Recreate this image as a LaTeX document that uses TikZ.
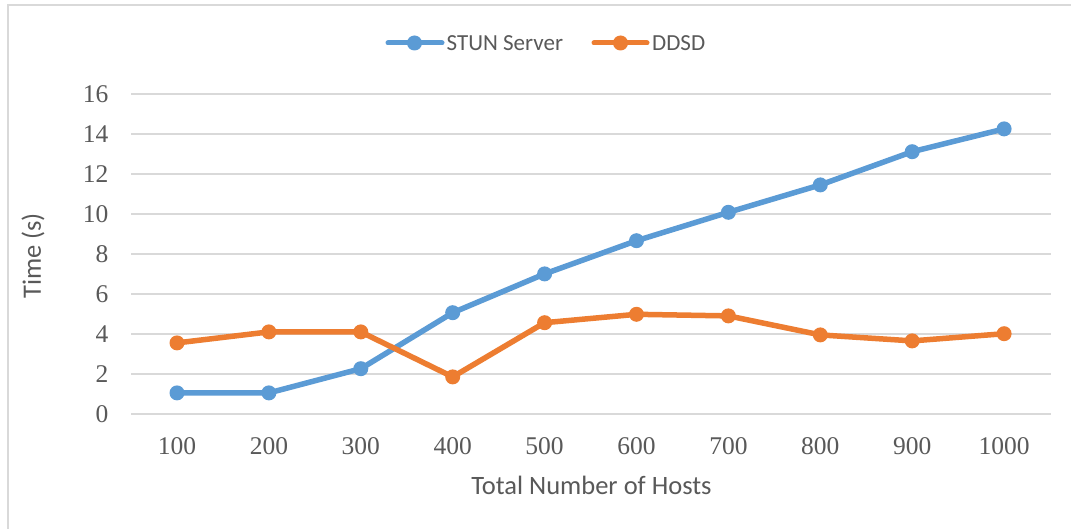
\documentclass[tikz,border=0pt]{standalone}
\usepackage{fontspec}
\setmainfont{Liberation Serif}
\newfontfamily\calfont{Carlito}
\definecolor{stun}{HTML}{5B9BD5}
\definecolor{ddsd}{HTML}{ED7D31}
\definecolor{txt}{HTML}{595959}
\definecolor{gridc}{HTML}{D9D9D9}
\tikzset{
  gridline/.style={draw=gridc, line width=1.8pt},
  framel/.style={draw=gridc, line width=2pt},
  ticklab/.style={text=txt, font=\fontsize{25.5}{30}\selectfont, inner sep=0pt},
  axtitle/.style={text=txt, font=\calfont\fontsize{26.5}{30}\selectfont, inner sep=0pt},
  legtext/.style={text=txt, font=\calfont\fontsize{23}{27}\selectfont, inner sep=0pt, anchor=west},
  stunline/.style={draw=stun, line width=5.5pt, line join=round, line cap=round},
  ddsdline/.style={draw=ddsd, line width=5.5pt, line join=round, line cap=round},
  stunmark/.style={circle, fill=stun, minimum size=15pt, inner sep=0pt},
  ddsdmark/.style={circle, fill=ddsd, minimum size=15pt, inner sep=0pt},
}
\begin{document}
\begin{tikzpicture}[x=1pt,y=-1pt]
\useasboundingbox (0,0) rectangle (1071,529);
\fill[white] (0,0) rectangle (1071,529);
\draw[framel] (8,529) -- (8,5) -- (1071,5);

% gridlines and y labels
\foreach \v in {0,2,...,16}{
  \draw[gridline] (131,{414.3-20*\v}) -- (1050.5,{414.3-20*\v});
  \node[ticklab, anchor=east] (yl\v) at (108.5,{414.3-20*\v}) {\v};
}
% x labels
\foreach \n [count=\k] in {100,200,...,1000}{
  \node[ticklab] (xl\k) at ({85.1+91.9*\k},445.7) {\n};
}

% axis titles
\node[axtitle, rotate=90] (ytitle) at (33,256) {Time (s)};
\node[axtitle] (xtitle) at (591.5,485) {Total Number of Hosts};

% data coordinates
\foreach \v [count=\k] in {1.07,1.07,2.28,5.08,7.02,8.68,10.1,11.47,13.13,14.27}{
  \coordinate (s\k) at ({85.1+91.9*\k},{414.3-20*\v});
}
\foreach \v [count=\k] in {3.57,4.12,4.12,1.87,4.58,5.0,4.92,3.97,3.67,4.03}{
  \coordinate (d\k) at ({85.1+91.9*\k},{414.3-20*\v});
}

% STUN series
\draw[stunline] (s1) -- (s2) -- (s3) -- (s4) -- (s5) -- (s6) -- (s7) -- (s8) -- (s9) -- (s10);
\foreach \k in {1,...,10}{ \node[stunmark] (sm\k) at (s\k) {}; }
% DDSD series
\draw[ddsdline] (d1) -- (d2) -- (d3) -- (d4) -- (d5) -- (d6) -- (d7) -- (d8) -- (d9) -- (d10);
\foreach \k in {1,...,10}{ \node[ddsdmark] (dm\k) at (d\k) {}; }

% legend
\coordinate (la1) at (388,43);
\coordinate (la2) at (442,43);
\draw[stunline, line width=5pt] (la1) -- (la2);
\node[stunmark] (lm1) at (414.5,43) {};
\node[legtext] (lt1) at (446.5,43) {STUN Server};
\coordinate (lb1) at (594,43);
\coordinate (lb2) at (647,43);
\draw[ddsdline, line width=5pt] (lb1) -- (lb2);
\node[ddsdmark] (lm2) at (620.5,43) {};
\node[legtext] (lt2) at (652,43) {DDSD};
\end{tikzpicture}
\end{document}
